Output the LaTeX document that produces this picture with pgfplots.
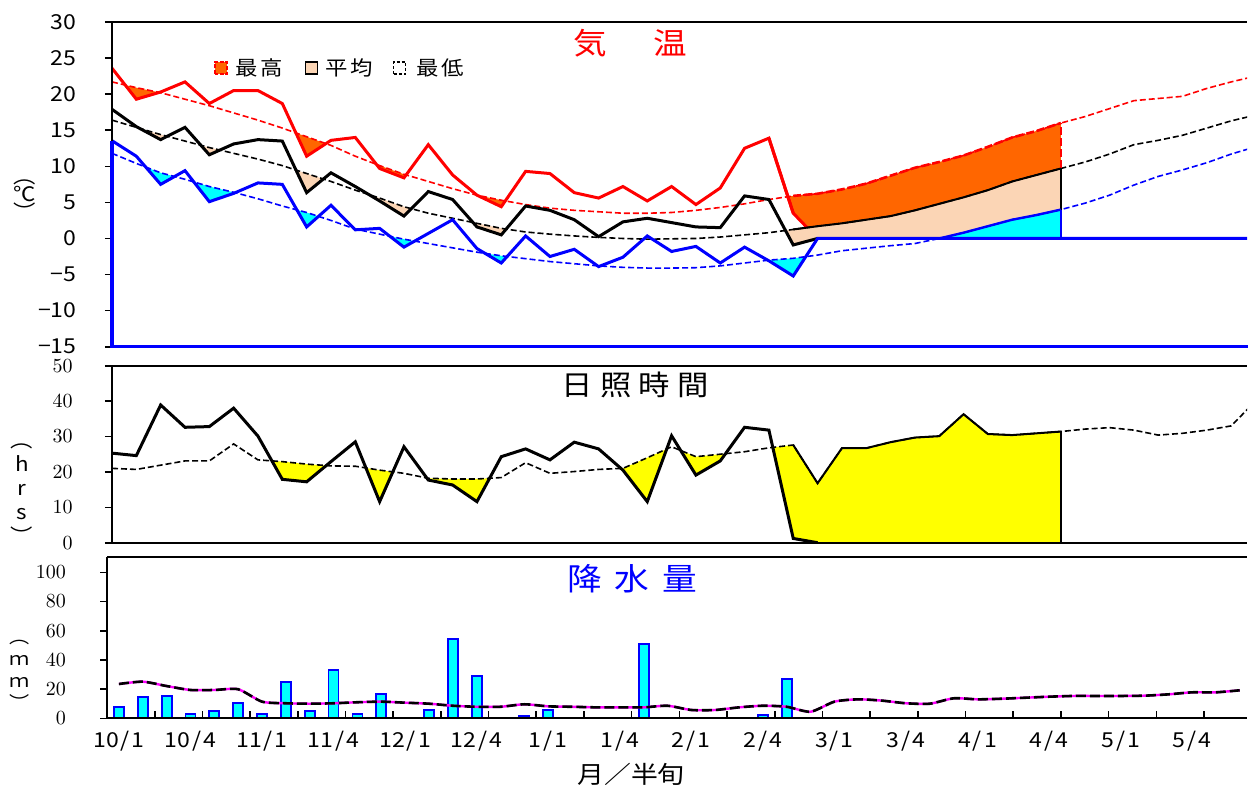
\documentclass[border=0pt]{standalone}
\usepackage{fontspec}
\setmainfont{Noto Sans CJK JP}[FakeStretch=1.12]
\usepackage{pgfplots}
\usepackage{pgfplotstable}
\pgfplotsset{compat=1.18}
\usepgfplotslibrary{fillbetween}
\definecolor{cRed}{RGB}{255,0,0}
\definecolor{cOrange}{RGB}{255,102,0}
\definecolor{cPeach}{RGB}{251,213,181}
\definecolor{cCyan}{RGB}{0,255,255}
\definecolor{cBlue}{RGB}{0,0,255}
\definecolor{cYellow}{RGB}{255,255,0}
\definecolor{cMag}{RGB}{255,0,255}
\newcommand{\tf}{\fontsize{10.3}{12}\selectfont}

\pgfplotstableread{
i tmax nmax tavg navg tmin nmin
0 23.6 21.7 17.9 16.4 13.55 11.8
1 19.3 20.9 15.5 15.4 11.4 10.4
2 20.3 20.2 13.7 14.4 7.5 9.1
3 21.7 19.3 15.4 13.5 9.4 8.2
4 18.7 18.4 11.6 12.6 5.1 7.2
5 20.5 17.4 13.1 11.8 6.25 6.4
6 20.5 16.4 13.7 11.0 7.7 5.5
7 18.7 15.3 13.5 10.1 7.5 4.5
8 11.4 14.1 6.35 9.0 1.6 3.6
9 13.6 12.9 9.1 7.9 4.6 2.5
10 14.0 11.4 7.2 6.7 1.2 1.3
11 9.7 10.1 5.2 5.6 1.4 0.6
12 8.4 8.9 3.1 4.4 -1.2 -0.1
13 13.0 7.9 6.5 3.5 0.7 -0.7
14 8.8 6.9 5.4 2.8 2.6 -1.3
15 6.0 6.0 1.6 2.1 -1.4 -1.9
16 4.4 5.3 0.5 1.4 -3.4 -2.4
17 9.3 4.7 4.5 0.9 0.35 -2.8
18 9.0 4.2 3.9 0.6 -2.5 -3.2
19 6.35 3.9 2.6 0.35 -1.5 -3.5
20 5.6 3.7 0.25 0.15 -3.9 -3.8
21 7.2 3.5 2.3 0.0 -2.6 -4.0
22 5.2 3.5 2.8 -0.1 0.35 -4.1
23 7.2 3.6 2.2 -0.05 -1.8 -4.1
24 4.7 3.9 1.6 0.0 -1.1 -4.05
25 7.0 4.3 1.5 0.2 -3.4 -3.8
26 12.5 4.8 5.9 0.5 -1.2 -3.4
27 13.9 5.4 5.4 0.8 -3.1 -3.0
28 3.5 5.9 -0.9 1.25 -5.2 -2.75
29 0 6.2 0 1.7 0 -2.3
30 0 6.8 0 2.1 0 -1.7
31 0 7.6 0 2.6 0 -1.35
32 0 8.7 0 3.1 0 -1.0
33 0 9.8 0 3.9 0 -0.7
34 0 10.6 0 4.8 0 0.0
35 0 11.5 0 5.7 0 0.8
36 0 12.7 0 6.7 0 1.7
37 0 14.0 0 7.9 0 2.6
38 0 14.9 0 8.8 0 3.25
39 0 16.0 0 9.7 0 4.0
40 0 16.9 0 10.6 0 4.9
41 0 18.0 0 11.7 0 6.0
42 0 19.1 0 13.0 0 7.4
43 0 19.4 0 13.6 0 8.6
44 0 19.7 0 14.3 0 9.5
45 0 20.8 0 15.3 0 10.5
46 0 21.7 0 16.3 0 11.7
47 0 22.5 0 17.1 0 12.7
}\temp

\pgfplotstableread{
i sa sn
0 25.3 21.0
1 24.6 20.7
2 38.9 21.9
3 32.6 23.1
4 32.8 23.1
5 38.0 27.9
6 30.1 23.4
7 17.9 22.9
8 17.2 22.2
9 22.9 21.7
10 28.5 21.6
11 11.6 20.5
12 27.1 19.6
13 17.7 18.2
14 16.3 18.0
15 11.6 18.0
16 24.3 18.4
17 26.5 22.6
18 23.4 19.6
19 28.4 20.1
20 26.5 20.7
21 20.5 21.0
22 11.6 24.0
23 30.2 27.1
24 19.1 24.3
25 23.1 25.0
26 32.6 25.7
27 31.8 26.8
28 1.2 27.6
29 0 16.8
30 0 26.7
31 0 26.7
32 0 28.4
33 0 29.7
34 0 30.1
35 0 36.3
36 0 30.7
37 0 30.4
38 0 30.9
39 0 31.4
40 0 32.1
41 0 32.5
42 0 31.8
43 0 30.4
44 0 30.9
45 0 31.8
46 0 33.0
47 0 40.0
}\sun

\pgfplotstableread{
i p
0 7.5
1 14.6
2 15.3
3 2.7
4 5.0
5 10.7
6 2.7
7 25.1
8 5.0
9 33.3
10 3.2
11 16.4
13 5.7
14 54.3
15 29.2
17 1.6
18 5.7
21 0.6
22 50.7
25 0.6
27 2.3
28 26.9
}\prec

\pgfplotstableread{
i pn
0 23.5
1 25.1
2 22.1
3 19.4
4 19.4
5 19.9
6 11.4
7 10.3
8 10.0
9 10.3
10 11.0
11 11.4
12 10.7
13 10.0
14 8.6
15 7.9
16 7.9
17 9.6
18 8.2
19 7.9
20 7.5
21 7.5
22 7.5
23 8.6
24 5.7
25 5.7
26 7.5
27 8.6
28 7.9
29 4.5
30 11.4
31 13.0
32 12.1
33 10.3
34 10.0
35 13.7
36 13.0
37 13.4
38 14.1
39 14.8
40 15.3
41 15.3
42 15.3
43 15.5
44 16.4
45 17.8
46 17.8
47 19.2
}\precn

\begin{document}
\begin{tikzpicture}
\path (0,0) rectangle (624pt,393.5pt);
\pgfplotsset{every axis/.append style={scale only axis, axis line style={line width=1pt},
  axis x line*=box, axis y line*=left,
  ytick pos=left, ytick align=outside, major tick length=3.5pt,
  tick style={line width=0.8pt, black}, yticklabel style={font=\tf}, xticklabel style={font=\tf},
  set layers, axis on top, anchor=south west}}

% ---------------- temperature ----------------
\begin{axis}[at={(56pt,220.15pt)}, width=567.5pt, height=162.35pt,
  xmin=0, xmax=46.65, ymin=-15, ymax=30, xtick=\empty,
  ytick={-15,-10,...,30}, yticklabels={−15,−10,−5,0,5,10,15,20,25,30},
  yticklabel style={xshift=-10.7pt}]
\addplot[draw=none, name path=Z] coordinates {(0,-15) (39,-15)};
\addplot[draw=none, name path=NX] table[x=i,y=nmax]{\temp};
\addplot[draw=none, name path=TX] table[x=i,y=tmax]{\temp};
\addplot[draw=none, name path=NA] table[x=i,y=navg]{\temp};
\addplot[draw=none, name path=TA] table[x=i,y=tavg]{\temp};
\addplot[draw=none, name path=NN] table[x=i,y=nmin]{\temp};
\addplot[draw=none, name path=TN] table[x=i,y=tmin]{\temp};
\addplot[cOrange] fill between[of=NX and Z, soft clip={domain=0:39}];
\addplot[white] fill between[of=TX and Z, soft clip={domain=0:39}];
\addplot[cRed, line width=1.5pt, on layer=pre main, restrict x to domain=27:29] table[x=i,y=tmax]{\temp};
\addplot[cPeach] fill between[of=NA and Z, soft clip={domain=0:39}];
\addplot[white] fill between[of=TA and Z, soft clip={domain=0:39}];
\addplot[cCyan] fill between[of=NN and Z, soft clip={domain=0:39}];
\addplot[white] fill between[of=TN and Z, soft clip={domain=0:39}];
% normals
\addplot[cRed, line width=0.8pt, dash pattern=on 3pt off 1.5pt] table[x=i,y=nmax]{\temp};
\addplot[black, line width=0.8pt, dash pattern=on 3pt off 1.5pt] table[x=i,y=navg]{\temp};
\addplot[cBlue, line width=0.8pt, dash pattern=on 3pt off 1.5pt] table[x=i,y=nmin]{\temp};
% forecast outlines
\addplot[cRed, line width=1.3pt, dash pattern=on 4pt off 1.5pt, restrict x to domain=28:39] table[x=i,y=nmax]{\temp};
\addplot[cRed, line width=1.3pt, dash pattern=on 4pt off 1.5pt] coordinates {(39,9.7) (39,16.0)};
\addplot[black, line width=1pt, restrict x to domain=28:39] table[x=i,y=navg]{\temp};
\addplot[black, line width=1pt] coordinates {(39,0) (39,9.7)};
\addplot[cBlue, line width=1.2pt, restrict x to domain=34:39] table[x=i,y=nmin]{\temp};
\addplot[cBlue, line width=1.2pt] coordinates {(39,0) (39,4.0)};
% actuals
\addplot[cRed, line width=1.5pt, restrict x to domain=0:28] table[x=i,y=tmax]{\temp};
\addplot[black, line width=1.5pt, restrict x to domain=0:29] table[x=i,y=tavg]{\temp};
\addplot[cBlue, line width=1.5pt] table[x=i,y=tmin]{\temp};
\addplot[cBlue, line width=1.6pt, on layer=axis foreground] coordinates {(0,13.55) (0,-15) (47,-15)};
\end{axis}

% ---------------- sunshine ----------------
\begin{axis}[at={(56pt,122.15pt)}, width=567.5pt, height=88.5pt,
  xmin=0, xmax=46.65, ymin=0, ymax=50, xtick=\empty,
  ytick={0,10,...,50},
  yticklabel style={xshift=-12.7pt}]
\addplot[draw=none, name path=SZ] coordinates {(0,0) (39,0)};
\addplot[draw=none, name path=SN] table[x=i,y=sn]{\sun};
\addplot[draw=none, name path=SA] table[x=i,y=sa]{\sun};
\addplot[cYellow] fill between[of=SN and SZ, soft clip={domain=0:39}];
\addplot[white] fill between[of=SA and SZ, soft clip={domain=0:39}];
\addplot[black, line width=0.8pt, dash pattern=on 3pt off 1.5pt] table[x=i,y=sn]{\sun};
\addplot[black, line width=1pt, restrict x to domain=28:39] table[x=i,y=sn]{\sun};
\addplot[black, line width=1pt] coordinates {(39,0) (39,31.4)};
\addplot[black, line width=1.5pt, restrict x to domain=0:29] table[x=i,y=sa]{\sun};
\end{axis}

% ---------------- precipitation ----------------
\begin{axis}[at={(53.5pt,34.35pt)}, width=570pt, height=80.8pt,
  xmin=-0.5, xmax=47.3, ymin=0, ymax=110.7,
  ytick={0,20,...,100}, yticklabel style={xshift=-13.5pt},
  xtick={1.5,3.5,...,45.5}, xticklabels={}, xtick pos=bottom, xtick align=inside,
  extra x ticks={0,3,...,45},
  extra x tick labels={10\kern1pt/\kern1pt1,10\kern1pt/\kern1pt4,11\kern1pt/\kern1pt1,11\kern1pt/\kern1pt4,12\kern1pt/\kern1pt1,12\kern1pt/\kern1pt4,1\kern1pt/\kern1pt1,1\kern1pt/\kern1pt4,2\kern1pt/\kern1pt1,2\kern1pt/\kern1pt4,3\kern1pt/\kern1pt1,3\kern1pt/\kern1pt4,4\kern1pt/\kern1pt1,4\kern1pt/\kern1pt4,5\kern1pt/\kern1pt1,5\kern1pt/\kern1pt4},
  extra x tick style={major tick length=0pt},
  xticklabel style={yshift=-3pt}]
\addplot[ybar, bar width=0.42, fill=cCyan, draw=cBlue, line width=0.9pt] table[x=i,y=p]{\prec};
\addplot[cMag, line width=1.2pt, smooth, tension=0.4] table[x=i,y=pn]{\precn};
\addplot[black, line width=1.3pt, dash pattern=on 5pt off 2pt, smooth, tension=0.4] table[x=i,y=pn]{\precn};
\end{axis}

% ---------------- texts ----------------
\node[cRed, font=\fontsize{15}{17}\selectfont] at (295pt,372pt) {気};
\node[cRed, font=\fontsize{15}{17}\selectfont] at (335pt,372pt) {温};
\node[font=\fontsize{14}{16}\selectfont] at (317.5pt,201pt) {日\hspace{3.6pt}照\hspace{3.6pt}時\hspace{3.6pt}間};
\node[cBlue, font=\fontsize{15.5}{18}\selectfont] at (316pt,104pt) {降\hspace{6.4pt}水\hspace{6.4pt}量};
\node[font=\fontsize{12}{14}\selectfont] at (315.5pt,6.5pt) {月／半旬};
% legend
\draw[cRed, fill=cOrange, line width=0.8pt, dash pattern=on 2pt off 0.8pt] (107.5pt,356.5pt) rectangle (113.5pt,362.5pt);
\node[font=\fontsize{10}{12}\selectfont] at (129.5pt,359.5pt) {最\hspace{1.5pt}高};
\draw[black, fill=cPeach, line width=0.7pt] (152.75pt,356.5pt) rectangle (158.75pt,362.5pt);
\node[font=\fontsize{10}{12}\selectfont] at (174.5pt,359.5pt) {平\hspace{1.5pt}均};
\draw[black, fill=white, line width=0.7pt, dash pattern=on 1.5pt off 1pt] (196.75pt,356.5pt) rectangle (202.75pt,362.5pt);
\node[font=\fontsize{10}{12}\selectfont] at (220pt,359.5pt) {最\hspace{1.5pt}低};
% y labels
\node[align=center, font=\fontsize{10}{9}\selectfont] at (12.5pt,293.5pt) {︵\\℃\\︶};
\node[align=center, font=\fontsize{10}{12}\selectfont] at (11pt,146.5pt) {︵\\h\\r\\s\\︶};
\node[align=center, font=\fontsize{9}{11}\selectfont] at (10pt,56pt) {︵\\ｍ\\ｍ\\︶};
\end{tikzpicture}
\end{document}
